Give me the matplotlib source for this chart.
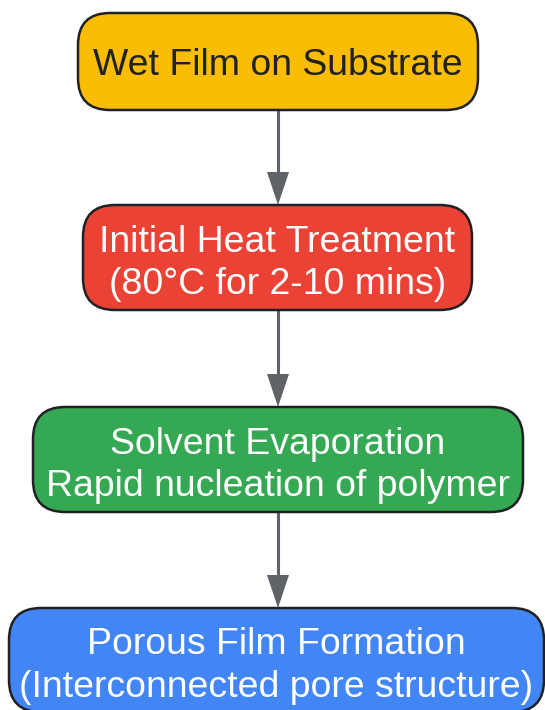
import matplotlib.pyplot as plt
from matplotlib.patches import FancyBboxPatch, Polygon

# ==========================================
# DATA
# ==========================================

labels = [
    'Wet Film on Substrate',
    'Initial Heat Treatment\n(80°C for 2-10 mins)',
    'Solvent Evaporation\nRapid nucleation of polymer',
    'Porous Film Formation\n(Interconnected pore structure)',
]

fill_colors = ['#FBBC04', '#EA4335', '#34A853', '#4285F4']
text_colors = ['#202124', '#FFFFFF', '#FFFFFF', '#FFFFFF']

# box geometry in pixel units: left, top, right, bottom
boxes = [
    (78, 13, 478, 110),
    (83, 205, 472, 310),
    (33, 407, 523, 512),
    (9, 608, 544, 712),
]

# ==========================================
# FIGURE
# ==========================================

plt.rcParams['font.family'] = ['Liberation Sans', 'DejaVu Sans']

W, H = 545, 710
fig = plt.figure(figsize=(W / 100, H / 100), dpi=100)
ax = fig.add_axes([0, 0, 1, 1])
ax.set_xlim(0, W)
ax.set_ylim(H, 0)
ax.axis('off')

radius = 32
edge = '#202124'
arrow_color = '#5F6368'

for (x0, y0, x1, y1), lab, fc, tc in zip(boxes, labels, fill_colors, text_colors):
    patch = FancyBboxPatch(
        (x0 + radius, y0 + radius),
        (x1 - x0) - 2 * radius,
        (y1 - y0) - 2 * radius,
        boxstyle='round,pad=%d,rounding_size=%d' % (radius, radius),
        facecolor=fc,
        edgecolor=edge,
        linewidth=1.8,
        zorder=2,
    )
    ax.add_patch(patch)
    shift = 6 if '\n' in lab else 4
    ax.text(
        (x0 + x1) / 2,
        (y0 + y1) / 2 + shift,
        lab,
        ha='center',
        va='center',
        color=tc,
        fontsize=26.9,
        linespacing=1.26,
        zorder=3,
    )

# ==========================================
# ARROWS
# ==========================================

cx = 278
head_len = 33
head_half = 11

for a, b in zip(boxes[:-1], boxes[1:]):
    y_start = a[3]
    y_end = b[1]
    ax.plot([cx, cx], [y_start, y_end - head_len + 2],
            color=arrow_color, linewidth=2.2, zorder=1)
    tri = Polygon(
        [[cx - head_half, y_end - head_len], [cx + head_half, y_end - head_len], [cx, y_end]],
        closed=True, facecolor=arrow_color, edgecolor='none', zorder=1,
    )
    ax.add_patch(tri)

plt.savefig('out.png', dpi=100)
